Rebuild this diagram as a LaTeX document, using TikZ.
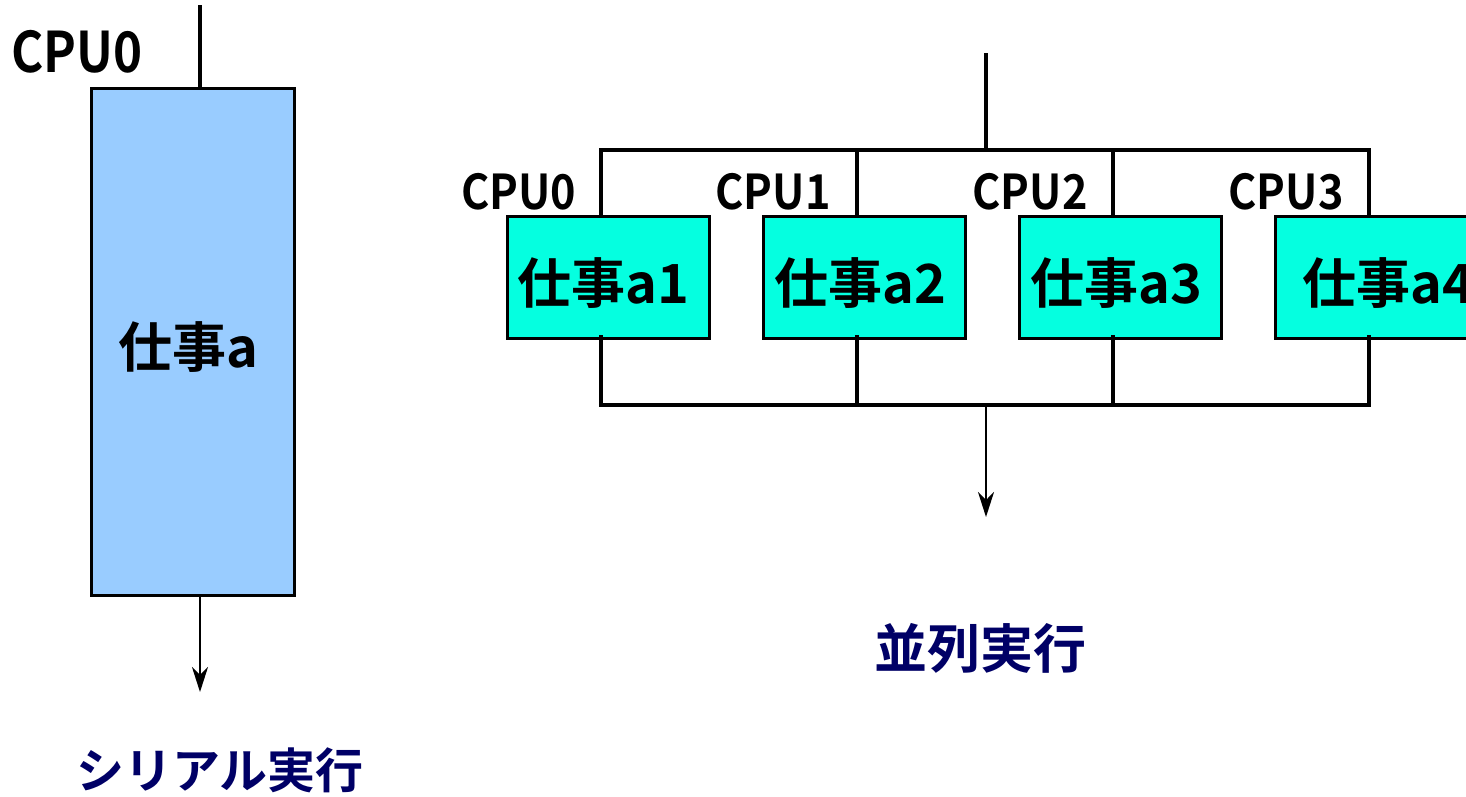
\documentclass[tikz,border=0pt]{standalone}
\usepackage{fontspec}
\setmainfont{Noto Sans CJK JP}[BoldFont={* Bold}]
\usetikzlibrary{arrows.meta}
\definecolor{serblue}{RGB}{153,204,255}
\definecolor{parcyan}{RGB}{5,255,224}
\definecolor{navy}{RGB}{0,0,102}
\tikzset{
  wire/.style={line width=3.2pt, line cap=rect},
  flow/.style={line width=2.5pt, -{Stealth[length=25pt,width=16pt,inset=8pt]}},
  serbox/.style={draw, line width=3pt, fill=serblue, minimum width=203pt, minimum height=507pt, inner sep=0pt},
  jobbox/.style={draw, line width=3pt, fill=parcyan, minimum width=202pt, minimum height=122pt, inner sep=0pt},
  cpulbl/.style={font=\bfseries\fontsize{48}{48}\selectfont, inner sep=0pt, xscale=0.9},
  bigcpu/.style={font=\bfseries\fontsize{56}{56}\selectfont, inner sep=0pt, xscale=0.88},
  joblbl/.style={font=\bfseries\fontsize{54}{54}\selectfont, inner sep=0pt},
  sertitle/.style={font=\bfseries\fontsize{48}{48}\selectfont, text=navy, inner sep=0pt},
  partitle/.style={font=\bfseries\fontsize{53}{53}\selectfont, text=navy, inner sep=0pt}
}
\begin{document}
\begin{tikzpicture}[x=1pt,y=-1pt]
\useasboundingbox (0,0) rectangle (1466,796);
% serial
\node[serbox] (ser) at (193,342) {};
\node[joblbl] (serlbl) at (188,347) {仕事a};
\node[bigcpu] (cpus) at (77,52) {CPU0};
\coordinate (sertop) at (200,7);
\coordinate (serend) at (200,692);
\draw[wire] (sertop) -- (sertop |- ser.north);
\draw[flow] ([yshift=3pt]sertop |- ser.south) -- (serend);
\node[sertitle] (stitle) at (220,770) {シリアル実行};
% parallel
\coordinate (pin) at (986,55);
\coordinate (tj) at (986,150);
\coordinate (bj) at (986,405);
\coordinate (pout) at (986,517);
\foreach \i/\cx/\lx in {1/608.5/601, 2/864.5/857, 3/1120.5/1113, 4/1376.5/1369}{
  \node[jobbox] (b\i) at (\cx,277.5) {};
  \coordinate (t\i) at (\lx,150);
  \coordinate (u\i) at (\lx,405);
  \draw[wire] (t\i) -- (t\i |- b\i.north);
  \draw[wire] ([yshift=3pt]t\i |- b\i.south) -- (u\i);
}
\node[joblbl] (l1) at (603,283) {仕事a1};
\node[joblbl] (l2) at (860,283) {仕事a2};
\node[joblbl] (l3) at (1116,283) {仕事a3};
\node[joblbl] (l4) at (1388,283) {仕事a4};
\node[cpulbl] (c0) at (519,192) {CPU0};
\node[cpulbl] (c1) at (773,192) {CPU1};
\node[cpulbl] (c2) at (1030,192) {CPU2};
\node[cpulbl] (c3) at (1286,192) {CPU3};
\draw[wire] (t1) -- (t4);
\draw[wire] (u1) -- (u4);
\draw[wire] (pin) -- (tj);
\draw[flow] (bj) -- (pout);
\node[partitle] (ptitle) at (980,648) {並列実行};
\end{tikzpicture}
\end{document}
